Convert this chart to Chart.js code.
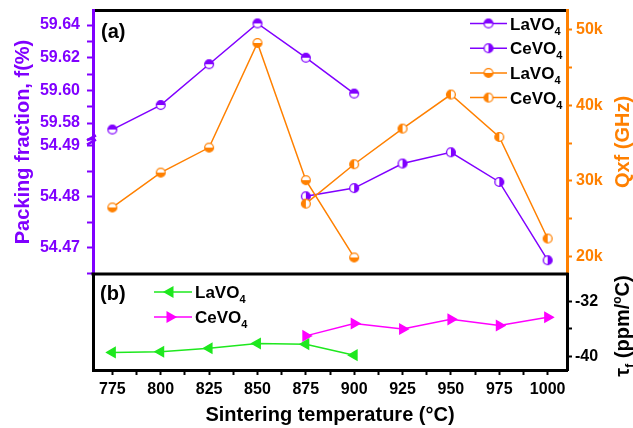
<!DOCTYPE html>
<html><head><meta charset="utf-8">
<script src="https://cdn.jsdelivr.net/npm/chart.js@4.4.0/dist/chart.umd.min.js"></script>
<style>html,body{margin:0;padding:0;background:#fff}#wrap{width:633px;height:428px;position:relative}</style>
</head><body><div id="wrap"><canvas id="c" width="633" height="428"></canvas></div>
<script>
// ---- data ----
const laTemps = [775, 800, 825, 850, 875, 900];
const ceTemps = [875, 900, 925, 950, 975, 1000];
const laPacking = [59.576, 59.591, 59.616, 59.641, 59.620, 59.598];
const cePacking = [54.4801, 54.4817, 54.4865, 54.4887, 54.4829, 54.4676];
const laQfK = [26.5, 31.1, 34.4, 48.2, 30.1, 19.9];   // Qxf in thousands of GHz
const ceQfK = [27.0, 32.2, 36.9, 41.4, 35.8, 22.4];
const laTau = [-39.4, -39.3, -38.8, -38.1, -38.2, -39.8];
const ceTau = [-37.0, -35.2, -36.0, -34.6, -35.5, -34.3];
const xTickLabels = ['775', '800', '825', '850', '875', '900', '925', '950', '975', '1000'];
const packTopLabels = ['59.58', '59.60', '59.62', '59.64'];
const packBotLabels = ['54.47', '54.48', '54.49'];
const qfLabels = ['20k', '30k', '40k', '50k'];
const tauLabels = ['-32', '-40'];
const legendNames = ['LaVO', 'CeVO', 'LaVO', 'CeVO'];

// ---- style ----
const FAMILY = "'Liberation Sans', Arial, sans-serif";
const PURPLE = '#8000ff', ORANGE = '#ff8000', GREEN = '#1ee81e', MAGENTA = '#ff00ff', BLACK = '#000';
Chart.defaults.font.family = FAMILY;

function halfMarker(color, dir) {
  const s = 12, c = document.createElement('canvas');
  c.width = s; c.height = s;
  const g = c.getContext('2d'), r = 4.4, cx = s / 2, cy = s / 2;
  g.fillStyle = '#fff'; g.beginPath(); g.arc(cx, cy, r, 0, 2 * Math.PI); g.fill();
  const start = {up: Math.PI, down: 0, left: Math.PI / 2, right: -Math.PI / 2}[dir];
  g.fillStyle = color; g.beginPath(); g.arc(cx, cy, r, start, start + Math.PI); g.closePath(); g.fill();
  g.strokeStyle = color; g.lineWidth = 1.3; g.beginPath(); g.arc(cx, cy, r, 0, 2 * Math.PI); g.stroke();
  return c;
}
const mLaF = halfMarker(PURPLE, 'up'), mCeF = halfMarker(PURPLE, 'right');
const mLaQ = halfMarker(ORANGE, 'down'), mCeQ = halfMarker(ORANGE, 'left');

const pts = (xs, ys) => xs.map((x, i) => ({x, y: ys[i]}));
const tickFont = {size: 16, weight: 'bold'};
const fitW = w => s => { s.width = w; s.paddingTop = 0; s.paddingBottom = 0; s.paddingLeft = 0; s.paddingRight = 0; };
const fitH = h => s => { s.height = h; s.paddingTop = 0; s.paddingBottom = 0; s.paddingLeft = 0; s.paddingRight = 0; };

function yAxis(col, o) {
  return Object.assign({
    type: 'linear', grid: {drawOnChartArea: false, color: col, tickLength: 6, tickWidth: 2},
    border: {color: col, width: 3}
  }, o);
}
const tickOpts = (col, pad, step, cb) => ({font: tickFont, color: col, includeBounds: false, autoSkip: false, padding: pad, stepSize: step, callback: cb});

const cfg = {
  type: 'line',
  data: {datasets: [
    {data: pts(ceTemps, ceQfK), xAxisID: 'x', yAxisID: 'yQ', borderColor: ORANGE, backgroundColor: ORANGE, borderWidth: 1.5, pointStyle: mCeQ, pointRadius: 5},
    {data: pts(laTemps, laQfK), xAxisID: 'x', yAxisID: 'yQ', borderColor: ORANGE, backgroundColor: ORANGE, borderWidth: 1.5, pointStyle: mLaQ, pointRadius: 5},
    {data: pts(laTemps, laPacking), xAxisID: 'x', yAxisID: 'yTop', borderColor: PURPLE, backgroundColor: PURPLE, borderWidth: 1.5, pointStyle: mLaF, pointRadius: 5},
    {data: pts(ceTemps, cePacking), xAxisID: 'x', yAxisID: 'yBot', borderColor: PURPLE, backgroundColor: PURPLE, borderWidth: 1.5, pointStyle: mCeF, pointRadius: 5},
    {data: pts(laTemps, laTau), xAxisID: 'x', yAxisID: 'yTau', borderColor: GREEN, backgroundColor: GREEN, borderWidth: 1.5, pointStyle: 'triangle', rotation: 270, pointRadius: 5.5},
    {data: pts(ceTemps, ceTau), xAxisID: 'x', yAxisID: 'yTau', borderColor: MAGENTA, backgroundColor: MAGENTA, borderWidth: 1.5, pointStyle: 'triangle', rotation: 90, pointRadius: 5.5}
  ]},
  options: {
    responsive: false, animation: false, devicePixelRatio: 1,
    layout: {padding: {top: 10, left: 0, right: 0, bottom: 0}},
    plugins: {legend: {display: false}, tooltip: {enabled: false}},
    elements: {line: {tension: 0}},
    scales: {
      x: {
        type: 'linear', position: 'bottom', min: 765, max: 1010,
        grid: {drawOnChartArea: false, color: BLACK, tickLength: 5, tickWidth: 2},
        border: {color: BLACK, width: 3},
        ticks: Object.assign(tickOpts(BLACK, 5, 12.5, v => { const s = String(v); return xTickLabels.includes(s) ? s : ''; }), {maxRotation: 0}),
        title: {display: true, text: 'Sintering temperature (°C)', color: BLACK, font: {size: 20, weight: 'bold'}, padding: {top: 0, bottom: 1}},
        afterFit: fitH(58)
      },
      xTop: {
        type: 'linear', position: 'top', min: 765, max: 1010,
        grid: {drawOnChartArea: false, drawTicks: false, color: BLACK},
        border: {color: BLACK, width: 3}, ticks: {display: false},
        afterFit: fitH(0)
      },
      yTop: yAxis(PURPLE, {position: 'left', stack: 'left', stackWeight: 130, weight: 3, min: 59.5696, max: 59.6492,
        ticks: tickOpts(PURPLE, 7, 0.01, v => { const s = v.toFixed(2); return packTopLabels.includes(s) ? s : ''; }),
        afterFit: fitW(93)}),
      yBot: yAxis(PURPLE, {position: 'left', stack: 'left', stackWeight: 134, weight: 2, min: 54.4649, max: 54.4911,
        ticks: tickOpts(PURPLE, 7, 0.005, v => { const s = v.toFixed(2); return (packBotLabels.includes(s) && Math.abs(v - parseFloat(s)) < 1e-6) ? s : ''; }),
        afterFit: fitW(93)}),
      yBL: {
        type: 'linear', position: 'left', stack: 'left', stackWeight: 96, weight: 1, min: -41.95, max: -28.02,
        grid: {drawOnChartArea: false, drawTicks: false, color: BLACK},
        border: {color: BLACK, width: 3}, ticks: {display: false},
        afterFit: fitW(93)
      },
      yQ: yAxis(ORANGE, {position: 'right', stack: 'right', stackWeight: 264, weight: 1, min: 17.72, max: 52.55,
        grid: {drawOnChartArea: false, color: ORANGE, tickLength: 5, tickWidth: 2},
        ticks: tickOpts(ORANGE, 4, 5, v => { const s = Math.round(v) + 'k'; return (Math.abs(v % 10) < 1e-6 && qfLabels.includes(s)) ? s : ''; }),
        afterFit: fitW(66)}),
      yTau: yAxis(BLACK, {position: 'right', stack: 'right', stackWeight: 96, weight: 2, min: -41.95, max: -28.02,
        grid: {drawOnChartArea: false, color: BLACK, tickLength: 5, tickWidth: 2},
        ticks: tickOpts(BLACK, 3, 4, v => (tauLabels.includes(String(v)) ? String(v) : '')),
        afterFit: fitW(66)})
    }
  },
  plugins: [{
    id: 'decor',
    afterDraw(chart) {
      const {ctx, chartArea: ca, scales} = chart;
      const yBot = scales.yBot, yTau = scales.yTau, yQ = scales.yQ;
      ctx.save();
      // panel separator
      ctx.strokeStyle = BLACK; ctx.lineWidth = 3;
      ctx.beginPath(); ctx.moveTo(ca.left - 1.5, yTau.top); ctx.lineTo(ca.right + 1.5, yTau.top); ctx.stroke();
      // axis break marks
      ctx.strokeStyle = PURPLE; ctx.lineWidth = 2.5;
      for (const d of [-2.2, 2.2]) {
        ctx.beginPath(); ctx.moveTo(ca.left - 6, yBot.top + d + 2.5); ctx.lineTo(ca.left + 3, yBot.top + d - 2.5); ctx.stroke();
      }
      ctx.restore();

      const rich = (parts, x, y, rot, color, align) => {
        ctx.save(); ctx.translate(x, y); ctx.rotate(rot); ctx.fillStyle = color; ctx.textBaseline = 'alphabetic';
        let w = 0;
        parts.forEach(p => { ctx.font = `bold ${p.s}px ${FAMILY}`; p.w = ctx.measureText(p.t).width; w += p.w; });
        let cx = align === 'center' ? -w / 2 : 0;
        const base = parts[0].s * 0.36;
        parts.forEach(p => { ctx.font = `bold ${p.s}px ${FAMILY}`; ctx.fillText(p.t, cx, base + (p.dy || 0)); cx += p.w; });
        ctx.restore();
      };
      const midA = (yQ.top + yQ.bottom) / 2;
      rich([{t: 'Packing fraction, f(%)', s: 20}], ca.left - 71, midA, -Math.PI / 2, PURPLE, 'center');
      rich([{t: 'Qxf (GHz)', s: 20}], ca.right + 55, midA, -Math.PI / 2, ORANGE, 'center');
      rich([{t: 'τ', s: 20}, {t: 'f', s: 12, dy: 5}, {t: ' (ppm/', s: 20}, {t: 'o', s: 12, dy: -8}, {t: 'C)', s: 20}],
        ca.right + 55, (yTau.top + yTau.bottom) / 2 + 4, -Math.PI / 2, BLACK, 'center');
      rich([{t: '(a)', s: 20}], ca.left + 8, ca.top + 21, 0, BLACK, 'left');
      rich([{t: '(b)', s: 20}], ca.left + 7, yTau.top + 19, 0, BLACK, 'left');

      // legends
      const ds = chart.data.datasets;
      const legA = [[ds[2], mLaF], [ds[3], mCeF], [ds[1], mLaQ], [ds[0], mCeQ]];
      legA.forEach((e, i) => {
        const y = ca.top + 13.5 + i * 24.7, x0 = ca.right - 97;
        ctx.save(); ctx.strokeStyle = e[0].borderColor; ctx.lineWidth = 1.5;
        ctx.beginPath(); ctx.moveTo(x0, y); ctx.lineTo(x0 + 37, y); ctx.stroke();
        ctx.drawImage(e[1], x0 + 18.5 - 6, y - 6); ctx.restore();
        rich([{t: legendNames[i], s: 17}, {t: '4', s: 11, dy: 5}], x0 + 40, y, 0, BLACK, 'left');
      });
      const legB = [ds[4], ds[5]];
      legB.forEach((d, i) => {
        const y = yTau.top + 18 + i * 25, x0 = ca.left + 61;
        ctx.save(); ctx.strokeStyle = d.borderColor; ctx.lineWidth = 1.5;
        ctx.beginPath(); ctx.moveTo(x0, y); ctx.lineTo(x0 + 38, y); ctx.stroke();
        ctx.fillStyle = d.backgroundColor;
        Chart.helpers.drawPoint(ctx, {pointStyle: 'triangle', rotation: d.rotation, radius: 5.5, borderWidth: 1}, x0 + 16, y);
        ctx.restore();
        rich([{t: legendNames[i], s: 17}, {t: '4', s: 11, dy: 5}], x0 + 41, y, 0, BLACK, 'left');
      });
    }
  }]
};
new Chart(document.getElementById('c'), cfg);
</script></body></html>
